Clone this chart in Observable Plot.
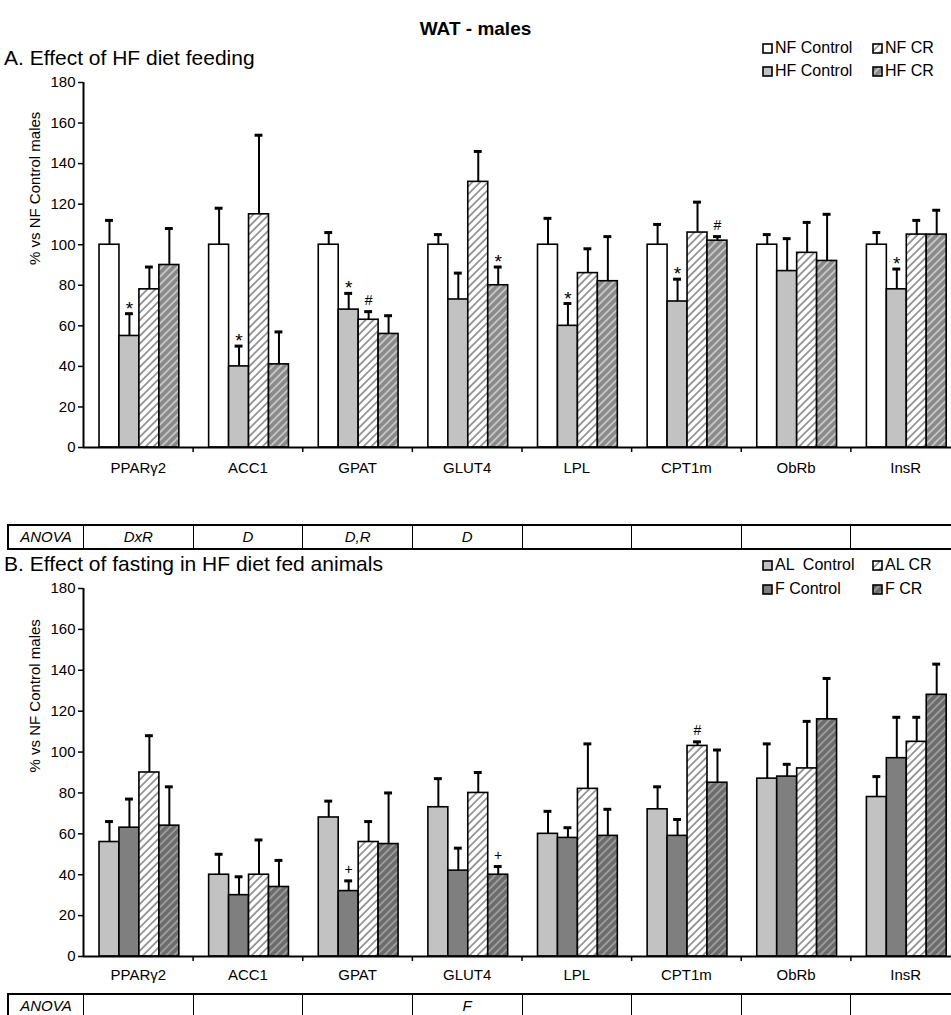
<!DOCTYPE html>
<html><head><meta charset="utf-8">
<script src="https://cdn.jsdelivr.net/npm/d3@7"></script>
<script src="https://cdn.jsdelivr.net/npm/@observablehq/plot@0.6"></script>
<style>
body{margin:0;background:#fff;font-family:"Liberation Sans",Arial,Helvetica,sans-serif;color:#000;}
#page{position:relative;width:951px;height:1015px;overflow:hidden;background:#fff;}
.abs{position:absolute;white-space:pre;}
.title{font-weight:bold;font-size:19px;}
.ptitle{font-size:21px;}
.legend{font-size:16px;line-height:22px;}
.anova{position:absolute;border-top:2px solid #000;border-bottom:2px solid #000;height:22px;}
.cell{position:absolute;top:0;height:22px;border-left:1.5px solid #000;font-style:italic;font-size:15px;line-height:22px;text-align:center;box-sizing:border-box;}
</style></head><body><div id="page"></div>
<script>
// ---------- data ----------
const genes = ["PPARγ2", "ACC1", "GPAT", "GLUT4", "LPL", "CPT1m", "ObRb", "InsR"];
const yTicks = [0, 20, 40, 60, 80, 100, 120, 140, 160, 180];

// Panel A: Effect of HF diet feeding
const seriesA = ["NF Control", "HF Control", "NF CR", "HF CR"];
const nfControlA    = [100, 100, 100, 100, 100, 100, 100, 100];
const nfControlSemA = [12, 18, 6, 5, 13, 10, 5, 6];
const hfControlA    = [55, 40, 68, 73, 60, 72, 87, 78];
const hfControlSemA = [11, 10, 8, 13, 11, 11, 16, 10];
const nfCrA         = [78, 115, 63, 131, 86, 106, 96, 105];
const nfCrSemA      = [11, 39, 4, 15, 12, 15, 15, 7];
const hfCrA         = [90, 41, 56, 80, 82, 102, 92, 105];
const hfCrSemA      = [18, 16, 9, 9, 22, 2, 23, 12];
const signifA = [
  ["PPARγ2", "HF Control", "*"], ["ACC1", "HF Control", "*"], ["GPAT", "HF Control", "*"],
  ["GPAT", "NF CR", "#"], ["GLUT4", "HF CR", "*"], ["LPL", "HF Control", "*"],
  ["CPT1m", "HF Control", "*"], ["CPT1m", "HF CR", "#"], ["InsR", "HF Control", "*"]
];
const anovaA = ["DxR", "D", "D,R", "D", "", "", "", ""];

// Panel B: Effect of fasting in HF diet fed animals
const seriesB = ["AL  Control", "F Control", "AL CR", "F CR"];
const alControlB    = [56, 40, 68, 73, 60, 72, 87, 78];
const alControlSemB = [10, 10, 8, 14, 11, 11, 17, 10];
const fControlB     = [63, 30, 32, 42, 58, 59, 88, 97];
const fControlSemB  = [14, 9, 5, 11, 5, 8, 6, 20];
const alCrB         = [90, 40, 56, 80, 82, 103, 92, 105];
const alCrSemB      = [18, 17, 10, 10, 22, 2, 23, 12];
const fCrB          = [64, 34, 55, 40, 59, 85, 116, 128];
const fCrSemB       = [19, 13, 25, 4, 13, 16, 20, 15];
const signifB = [["GPAT", "F Control", "+"], ["GLUT4", "F CR", "+"], ["CPT1m", "AL CR", "#"]];
const anovaB = ["", "", "", "F", "", "", "", ""];

const yLabel = "% vs NF Control males";

// ---------- styles ----------
const FONT = "Liberation Sans, Arial, Helvetica, sans-serif";
const fillsA = ["white", "#c2c2c2", "url(#hatchLight)", "url(#hatchDarkA)"];
const fillsB = ["#c2c2c2", "#7f7f7f", "url(#hatchLight)", "url(#hatchDarkB)"];
const GROUP_PAD = 0.146, BAR_W = 0.182, CAP = 0.036;

const page = document.getElementById("page");
page.insertAdjacentHTML("beforeend", `
<svg width="0" height="0" style="position:absolute">
 <defs>
  <pattern id="hatchLight" patternUnits="userSpaceOnUse" width="5.5" height="5.5" patternTransform="rotate(45)">
   <rect width="5.5" height="5.5" fill="white"/><line x1="1" y1="0" x2="1" y2="5.5" stroke="#8c8c8c" stroke-width="1.7"/>
  </pattern>
  <pattern id="hatchDarkA" patternUnits="userSpaceOnUse" width="5.5" height="5.5" patternTransform="rotate(45)">
   <rect width="5.5" height="5.5" fill="#8a8a8a"/><line x1="1" y1="0" x2="1" y2="5.5" stroke="#cfcfcf" stroke-width="1.6"/>
  </pattern>
  <pattern id="hatchDarkB" patternUnits="userSpaceOnUse" width="5.5" height="5.5" patternTransform="rotate(45)">
   <rect width="5.5" height="5.5" fill="#6c6c6c"/><line x1="1" y1="0" x2="1" y2="5.5" stroke="#a4a4a4" stroke-width="1.6"/>
  </pattern>
 </defs>
</svg>`);

function addText(cls, text, left, top, extra = "") {
  const d = document.createElement("div");
  d.className = "abs " + cls;
  d.textContent = text;
  d.style.cssText += `left:${left}px;top:${top}px;${extra}`;
  page.appendChild(d);
  return d;
}

function buildRows(series, vals, sems) {
  const rows = [];
  genes.forEach((g, gi) => series.forEach((s, sj) => {
    const x1 = gi + GROUP_PAD + sj * BAR_W;
    rows.push({gene: g, series: s, value: vals[sj][gi], top: vals[sj][gi] + sems[sj][gi],
               x1, x2: x1 + BAR_W, xc: x1 + BAR_W / 2});
  }));
  return rows;
}

function panel({series, vals, sems, fills, signif, anova, top, plotHeight, labelPad, anovaTop}) {
  const rows = buildRows(series, vals, sems);
  const sig = signif.map(([g, s, sym]) => ({...rows.find(r => r.gene === g && r.series === s), sym}));
  const mt = 20, mb = 34;
  const chart = Plot.plot({
    width: 951, height: mt + plotHeight + mb,
    marginTop: mt, marginBottom: mb, marginLeft: 83, marginRight: 0,
    style: {fontFamily: FONT, fontSize: "15px", color: "black", background: "transparent", overflow: "hidden"},
    x: {type: "linear", domain: [0, 8], range: [83, 960], axis: null},
    y: {domain: [0, 180], axis: null},
    color: {type: "ordinal", domain: series, range: fills},
    marks: [
      Plot.rectY(rows, {x1: "x1", x2: "x2", y: "value", fill: "series", stroke: "black", strokeWidth: 1.6}),
      Plot.ruleX(rows, {x: "xc", y1: "value", y2: "top", stroke: "black", strokeWidth: 2}),
      Plot.ruleY(rows, {y: "top", x1: d => d.xc - CAP, x2: d => d.xc + CAP, stroke: "black", strokeWidth: 3}),
      Plot.text(sig.filter(d => d.sym === "*"), {x: "xc", y: "top", text: "sym", dy: -5, fontSize: 19, fill: "black"}),
      Plot.text(sig.filter(d => d.sym !== "*"), {x: "xc", y: "top", text: "sym", dy: -11, fontSize: 14, fill: "black"}),
      Plot.ruleX([0], {y1: 0, y2: 180, stroke: "black", strokeWidth: 2}),
      Plot.ruleY([0], {stroke: "black", strokeWidth: 2}),
      Plot.axisY({ticks: yTicks, tickSize: 5, tickPadding: 3, label: null, strokeWidth: 1.5, fontSize: 15}),
      Plot.axisX({ticks: d3.range(1, 9), tickSize: 5, tickFormat: () => "", label: null, strokeWidth: 1.5}),
      Plot.axisX({ticks: genes.map((g, i) => i + 0.5), tickSize: 0, tickPadding: labelPad, fontSize: 15,
                  tickFormat: d => genes[Math.floor(d)], label: null}),
      Plot.text([yLabel], {frameAnchor: "left", rotate: -90, dx: -48, fontSize: 15, fill: "black"})
    ]
  });
  chart.style.position = "absolute";
  chart.style.left = "0px";
  chart.style.top = top + "px";
  page.appendChild(chart);

  // ANOVA table row aligned to the x scale
  const xs = chart.scale("x");
  const bounds = d3.range(0, 9).map(i => xs.apply(i));
  const tbl = document.createElement("div");
  tbl.className = "anova";
  tbl.style.left = "7px"; tbl.style.top = anovaTop + "px"; tbl.style.width = "1000px";
  const first = document.createElement("div");
  first.className = "cell"; first.textContent = "ANOVA";
  first.style.left = "0px"; first.style.width = (bounds[0] - 7) + "px"; first.style.borderLeft = "2px solid #000";
  tbl.appendChild(first);
  anova.forEach((t, i) => {
    const c = document.createElement("div");
    c.className = "cell"; c.textContent = t;
    c.style.left = (bounds[i] - 7) + "px"; c.style.width = (bounds[i + 1] - bounds[i]) + "px";
    tbl.appendChild(c);
  });
  page.appendChild(tbl);
}

function drawLegend(entries, left, top, rowGap, colGap) {
  entries.forEach(([label, fill, row, col]) => {
    const x = left + col * colGap, y = top + row * rowGap;
    const sw = document.createElementNS("http://www.w3.org/2000/svg", "svg");
    sw.setAttribute("width", 11); sw.setAttribute("height", 11);
    sw.style.cssText = `position:absolute;left:${x}px;top:${y - 5}px`;
    sw.innerHTML = `<rect x="1" y="1" width="9" height="9" fill="${fill}" stroke="black" stroke-width="1.6"/>`;
    page.appendChild(sw);
    addText("legend", label, x + 13, y - 11);
  });
}

// ---------- titles ----------
addText("title", "WAT - males", 0, 18, "width:951px;text-align:center;");
addText("ptitle", "A. Effect of HF diet feeding", 4, 46);
addText("ptitle", "B. Effect of fasting in HF diet fed animals", 4, 552);

// ---------- panels ----------
panel({series: seriesA, vals: [nfControlA, hfControlA, nfCrA, hfCrA],
       sems: [nfControlSemA, hfControlSemA, nfCrSemA, hfCrSemA], fills: fillsA, signif: signifA,
       anova: anovaA, top: 62, plotHeight: 365, labelPad: 15, anovaTop: 524});
panel({series: seriesB, vals: [alControlB, fControlB, alCrB, fCrB],
       sems: [alControlSemB, fControlSemB, alCrSemB, fCrSemB], fills: fillsB, signif: signifB,
       anova: anovaB, top: 568, plotHeight: 368, labelPad: 13, anovaTop: 993});

// ---------- legends ----------
drawLegend([[seriesA[0], fillsA[0], 0, 0], [seriesA[2], fillsA[2], 0, 1],
            [seriesA[1], fillsA[1], 1, 0], [seriesA[3], fillsA[3], 1, 1]], 762, 48, 23, 110);
drawLegend([[seriesB[0], fillsB[0], 0, 0], [seriesB[2], fillsB[2], 0, 1],
            [seriesB[1], fillsB[1], 1, 0], [seriesB[3], fillsB[3], 1, 1]], 762, 565, 24, 110);
</script></body></html>
